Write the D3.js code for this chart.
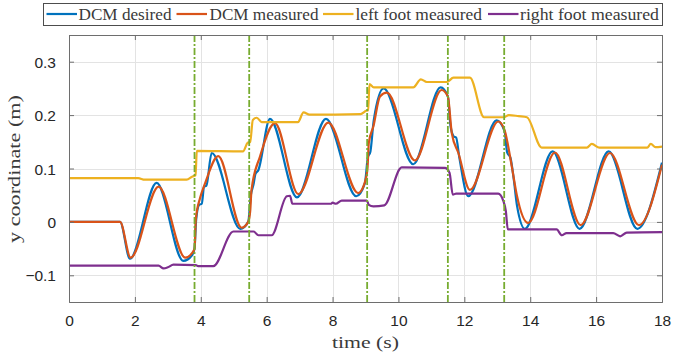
<!DOCTYPE html>
<html>
<head>
<meta charset="utf-8">
<script src="https://cdn.jsdelivr.net/npm/d3@7"></script>
<style>
  body { margin: 0; background: #fff; }
  .tick text { font-family: "Liberation Sans", Arial, sans-serif; font-size: 15.5px; fill: #262626; }
  .serif { font-family: "Liberation Serif", "Times New Roman", serif; font-weight: normal; fill: #3a3a3a; }
</style>
</head>
<body>
<svg id="chart" width="676" height="357"></svg>
<script>
// time (s), value (m)
const dcmDesired = [
  [0,0],[1.55,0],[1.85,-0.069],[2.66,0.073],[3.47,-0.073],[3.74,-0.062],[3.81,-0.05],
  [3.86,0.004],[3.95,0.032],[4.03,0.034],[4.1,0.066],[4.17,0.068],[4.33,0.129],
  [5.2,-0.013],[5.44,0.0],[5.52,0.05],[5.6,0.07],[5.66,0.09],[5.74,0.096],[6.1,0.193],
  [6.92,0.046],[7.8,0.193],[8.72,0.048],[8.98,0.072],[9.07,0.12],[9.15,0.132],[9.25,0.19],
  [9.55,0.25],[10.45,0.108],[11.28,0.252],[11.5,0.235],[11.58,0.18],[11.68,0.16],[11.75,0.158],
  [11.85,0.12],[12.12,0.048],[12.98,0.19],[13.22,0.17],[13.3,0.13],[13.4,0.12],[13.5,0.08],
  [13.6,0.03],[13.84,-0.013],[14.68,0.132],[15.5,-0.013],[16.38,0.132],[17.25,-0.013],[18,0.111]
];
const dcmMeasured = [
  [0,0],[1.55,0],[1.87,-0.067],[2.72,0.066],[3.53,-0.067],[3.74,-0.058],[3.81,-0.05],
  [3.85,0.005],[3.98,0.045],[4.13,0.072],[4.53,0.123],[5.24,-0.011],[5.44,0.0],[5.5,0.02],
  [5.54,0.06],[5.8,0.123],[6.25,0.185],[6.96,0.052],[7.87,0.186],[8.78,0.054],[8.98,0.074],
  [9.06,0.1],[9.1,0.148],[9.24,0.179],[9.44,0.235],[9.65,0.242],[10.5,0.115],[11.31,0.247],
  [11.5,0.235],[11.62,0.166],[11.82,0.129],[12.17,0.06],[13.03,0.188],[13.22,0.172],
  [13.44,0.104],[13.59,0.051],[13.94,-0.002],[14.75,0.13],[15.53,-0.006],[16.42,0.129],
  [17.3,-0.006],[18,0.107]
];
const leftFoot = [
  [0,0.082],[2.1,0.082],[2.3,0.079],[3.57,0.079],[3.75,0.085],[3.84,0.087],[3.88,0.133],
  [5.28,0.132],[5.42,0.148],[5.5,0.15],[5.58,0.191],[5.7,0.195],[5.85,0.187],[6.95,0.187],
  [7.12,0.205],[7.3,0.201],[8.85,0.202],[9.02,0.208],[9.08,0.209],[9.12,0.258],[9.25,0.252],
  [10.45,0.252],[10.68,0.267],[10.86,0.262],[11.47,0.262],[11.67,0.27],[12.17,0.27],
  [12.6,0.196],[13.2,0.196],[13.35,0.2],[13.65,0.198],[13.9,0.196],[14.35,0.139],
  [15.72,0.139],[15.87,0.146],[16.1,0.139],[17.55,0.139],[17.66,0.146],[17.8,0.14],[18,0.141]
];
const rightFoot = [
  [0,-0.082],[2.72,-0.082],[2.87,-0.087],[3.0,-0.085],[3.17,-0.080],[3.85,-0.081],
  [3.92,-0.083],[4.38,-0.083],[4.99,-0.018],[5.6,-0.018],[5.75,-0.025],[6.15,-0.025],
  [6.61,0.048],[6.71,0.049],[6.78,0.034],[7.95,0.034],[8.0,0.036],[8.1,0.034],[8.28,0.040],
  [9.04,0.040],[9.1,0.032],[9.24,0.029],[9.57,0.031],[10.1,0.102],[11.41,0.101],
  [11.55,0.092],[11.65,0.051],[11.75,0.053],[13.03,0.053],[13.18,0.040],[13.26,0.02],
  [13.32,-0.014],[14.8,-0.014],[14.96,-0.025],[15.1,-0.021],[16.52,-0.021],[16.73,-0.027],
  [16.93,-0.020],[18,-0.019]
];
const stepTimes = [3.81, 5.47, 9.05, 11.5, 13.21];
const xTicks = [0,2,4,6,8,10,12,14,16,18];
const yTicks = [-0.1,0,0.1,0.2,0.3];
const seriesNames = ['DCM desired','DCM measured','left foot measured','right foot measured'];
const seriesColors = ['#0072BD','#D95319','#EDB120','#7E2F8E'];

const margin = { top: 35, right: 14, bottom: 55, left: 69 };
const width = 676 - margin.left - margin.right;
const height = 357 - margin.top - margin.bottom;

const svg = d3.select('#chart');
const g = svg.append('g').attr('transform', `translate(${margin.left},${margin.top})`);

const x = d3.scaleLinear().domain([0, 18]).range([0, width]);
const y = d3.scaleLinear().domain([-0.15, 0.35]).range([height, 0]);

// grid
g.append('g').selectAll('line').data(xTicks).enter().append('line')
  .attr('x1', d => Math.round(x(d)) + 0.5).attr('x2', d => Math.round(x(d)) + 0.5)
  .attr('y1', 0).attr('y2', height).attr('stroke', '#e3e3e3');
g.append('g').selectAll('line').data(yTicks).enter().append('line')
  .attr('y1', d => Math.round(y(d)) + 0.5).attr('y2', d => Math.round(y(d)) + 0.5)
  .attr('x1', 0).attr('x2', width).attr('stroke', '#e3e3e3');

g.append('clipPath').attr('id', 'clip').append('rect')
  .attr('width', width).attr('height', height);

const line = d3.line()
  .x(d => x(d[0])).y(d => y(d[1]))
  .curve(d3.curveMonotoneX);

const data = [dcmDesired, dcmMeasured, leftFoot, rightFoot];
g.append('g').attr('clip-path', 'url(#clip)')
  .selectAll('path').data(data).enter().append('path')
  .attr('d', line)
  .attr('fill', 'none')
  .attr('stroke', (_, i) => seriesColors[i])
  .attr('stroke-width', 2.2)
  .attr('stroke-linejoin', 'round');

// step markers
g.append('g').selectAll('line').data(stepTimes).enter().append('line')
  .attr('x1', d => x(d)).attr('x2', d => x(d))
  .attr('y1', 0).attr('y2', height)
  .attr('stroke', '#77AC30').attr('stroke-width', 1.8)
  .attr('stroke-dasharray', '7,2,2,2');

// axes (ticks inside, box on)
const axisColor = '#6e6e6e';
const xAxis = g.append('g').attr('transform', `translate(0,${height})`)
  .call(d3.axisBottom(x).tickValues(xTicks).tickSize(-5).tickPadding(12).tickFormat(d3.format('d')));
const xTop = g.append('g')
  .call(d3.axisTop(x).tickValues(xTicks).tickSize(-5).tickFormat(''));
const yAxis = g.append('g')
  .call(d3.axisLeft(y).tickValues(yTicks).tickSize(-5).tickPadding(13).tickFormat(d => d === 0 ? '0' : d3.format('.1f')(d)));
const yRight = g.append('g').attr('transform', `translate(${width},0)`)
  .call(d3.axisRight(y).tickValues(yTicks).tickSize(-5).tickFormat(''));
[xAxis, xTop, yAxis, yRight].forEach(a => {
  a.select('.domain').attr('stroke', axisColor);
  a.selectAll('.tick line').attr('stroke', axisColor);
});
xAxis.selectAll('.tick text').attr('dy', '0.78em');
yAxis.selectAll('.tick text').attr('dy', '0.36em');

// axis titles
svg.append('text').attr('class', 'serif')
  .attr('x', margin.left + width / 2).attr('y', 348)
  .attr('text-anchor', 'middle').attr('font-size', 17)
  .attr('textLength', 67).attr('lengthAdjust', 'spacingAndGlyphs')
  .text('time (s)');
svg.append('text').attr('class', 'serif')
  .attr('transform', 'translate(20,169) rotate(-90)')
  .attr('text-anchor', 'middle').attr('font-size', 17)
  .attr('textLength', 148).attr('lengthAdjust', 'spacingAndGlyphs')
  .text('y coordinate (m)');

// legend
const legendItems = [
  { x1: 46.5, x2: 77, tx: 78.5, tw: 93 },
  { x1: 176.5, x2: 207, tx: 209.5, tw: 109 },
  { x1: 323, x2: 353.5, tx: 355.5, tw: 126.5 },
  { x1: 488, x2: 518.5, tx: 520, tw: 139 }
];
const legend = svg.append('g');
legend.append('rect').attr('x', 43.5).attr('y', 3.5).attr('width', 619).attr('height', 22)
  .attr('fill', '#fff').attr('stroke', '#4d4d4d').attr('stroke-width', 1);
const li = legend.selectAll('g.item').data(seriesNames).enter().append('g').attr('class', 'item');
li.append('line')
  .attr('x1', (_, i) => legendItems[i].x1).attr('x2', (_, i) => legendItems[i].x2)
  .attr('y1', 14).attr('y2', 14)
  .attr('stroke', (_, i) => seriesColors[i]).attr('stroke-width', 2.2);
li.append('text').attr('class', 'serif')
  .attr('x', (_, i) => legendItems[i].tx).attr('y', 19.5)
  .attr('font-size', 16.5)
  .attr('textLength', (_, i) => legendItems[i].tw).attr('lengthAdjust', 'spacingAndGlyphs')
  .text(d => d);
</script>
</body>
</html>
